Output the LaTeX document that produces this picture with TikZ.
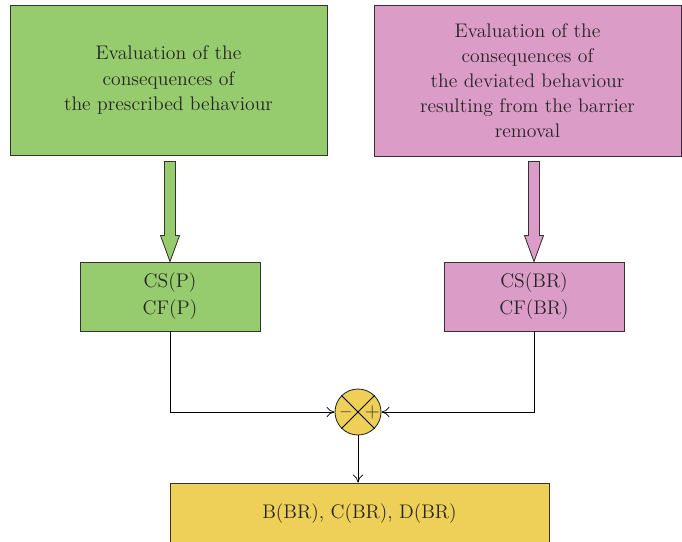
\documentclass[tikz,border=0pt]{standalone}
\usetikzlibrary{arrows.meta}
\definecolor{cgreen}{RGB}{150,204,110}
\definecolor{cpink}{RGB}{220,156,200}
\definecolor{cyell}{RGB}{238,208,88}
\tikzset{
  box/.style={draw=black!80,line width=0.6pt,align=center,inner sep=0pt,text=black!85,font=\fontsize{14}{18.4}\selectfont},
  fat/.style={draw=black!80,line width=0.6pt},
  arr/.style={-{To[length=2mm,width=2.6mm]},line width=0.5pt}
}
\begin{document}
\begin{tikzpicture}[x=0.025cm,y=-0.025cm]
\useasboundingbox (0,0) rectangle (682,541);
% top boxes
\node[box,fill=cgreen,minimum width=7.925cm,minimum height=3.75cm] (evp) at (168.5,80)
  {Evaluation of the\\consequences of\\the prescribed behaviour};
\node[box,fill=cpink,minimum width=7.675cm,minimum height=3.775cm,font=\fontsize{14}{17.8}\selectfont] (evbr) at (527.5,80.5)
  {Evaluation of the\\consequences of\\the deviated behaviour\\resulting from the barrier\\removal};
% middle boxes
\node[box,fill=cgreen,minimum width=4.5cm,minimum height=1.725cm,font=\fontsize{14}{19.2}\selectfont] (csp) at (170,296.5) {CS(P)\\CF(P)};
\node[box,fill=cpink,minimum width=4.5cm,minimum height=1.725cm,font=\fontsize{14}{19.2}\selectfont] (csbr) at (534,296.5) {CS(BR)\\CF(BR)};
% fat arrows
\draw[fat,fill=cgreen] (csp.north) -- ++(-9.5,-26) -- ++(4,0) -- ++(0,-74) -- ++(11,0) -- ++(0,74) -- ++(4,0) -- cycle;
\draw[fat,fill=cpink] (csbr.north) -- ++(-9.5,-26) -- ++(4,0) -- ++(0,-74) -- ++(11,0) -- ++(0,74) -- ++(4,0) -- cycle;
% summing point
\node[circle,draw=black!85,line width=0.6pt,fill=cyell,minimum size=1.15cm,inner sep=0pt] (sum) at (358,412) {};
\draw[line width=0.6pt] (sum.45)--(sum.225) (sum.135)--(sum.315);
\node[font=\fontsize{13}{13}\selectfont,text=black!80] (minus) at ([xshift=-0.3cm]sum.center) {$-$};
\node[font=\fontsize{14}{14}\selectfont,text=black!80] (plus) at ([xshift=0.36cm]sum.center) {$+$};
% result
\node[box,fill=cyell,minimum width=9.475cm,minimum height=1.55cm] (res) at (359.5,514) {B(BR), C(BR), D(BR)};
% connectors
\draw[arr] (csp.south) |- (sum.west);
\draw[arr] (csbr.south) |- (sum.east);
\draw[arr] (sum.south) -- (sum.south|-res.north);
\end{tikzpicture}
\end{document}
